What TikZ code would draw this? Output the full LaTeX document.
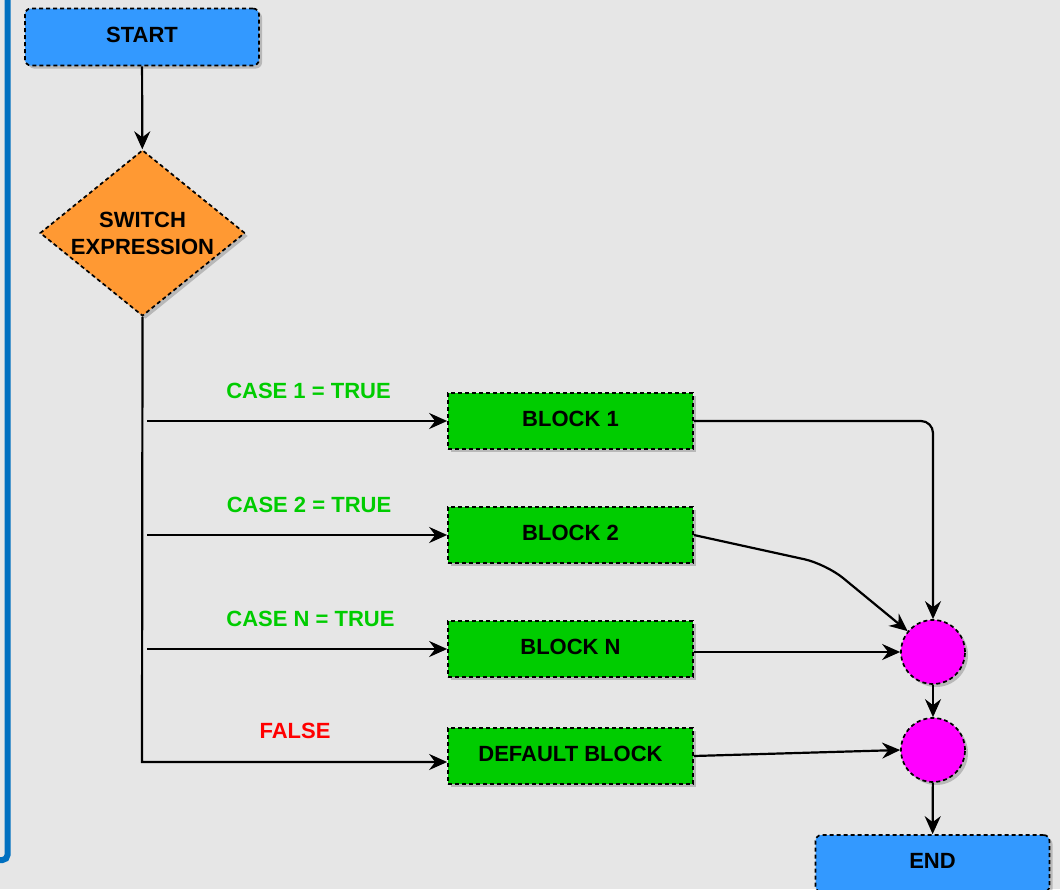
\documentclass[tikz,border=0pt]{standalone}
\usepackage{fontspec}
\setmainfont{Liberation Sans}
\usetikzlibrary{shapes.geometric,arrows.meta,shadows}

\definecolor{bgc}{HTML}{E6E6E6}
\definecolor{termblue}{HTML}{3399FF}
\definecolor{decorange}{HTML}{FF9933}
\definecolor{blockgreen}{HTML}{00CC00}
\definecolor{joinmagenta}{HTML}{FF00FF}
\definecolor{casegreen}{HTML}{00CC00}
\definecolor{falsered}{HTML}{FF0000}
\definecolor{frameblue}{HTML}{0070C0}

\tikzset{
  base/.style={draw=black, line width=1.7pt, dash pattern=on 4pt off 3pt,
    drop shadow={shadow xshift=3pt, shadow yshift=-3pt, opacity=0.2, fill=black},
    font=\fontsize{22}{27}\selectfont\bfseries, text=black, inner sep=0pt},
  termbox/.style={base, rectangle, rounded corners=6pt, fill=termblue,
    minimum width=234pt, minimum height=57pt, text depth=5pt},
  blockbox/.style={base, rectangle, fill=blockgreen,
    minimum width=245pt, minimum height=56pt, text depth=5pt},
  decide/.style={base, diamond, fill=decorange, align=center, aspect=1.235,
    minimum width=205pt, minimum height=166pt},
  joint/.style={base, circle, fill=joinmagenta, minimum size=64pt},
  arr/.style={-{Stealth[length=18pt,width=16pt,inset=6pt]}, line width=2.2pt, draw=black},
  caselabel/.style={font=\fontsize{22}{27}\selectfont\bfseries, text=casegreen, inner sep=0pt},
}

\begin{document}
\begin{tikzpicture}[x=1pt,y=-1pt]
  % canvas
  \fill[bgc] (0,0) rectangle (1060,889);
  \useasboundingbox (0,0) rectangle (1060,889);

  % frame edge on the left
  \draw[frameblue, line width=6pt, rounded corners=5pt] (7.5,-10) -- (7.5,860) -- (-10,860);

  % nodes
  \node[termbox] (start) at (142,37) {START};
  \node[decide] (sw) at (142.5,233) {SWITCH\\EXPRESSION};
  \node[blockbox] (b1) at (570.5,421) {BLOCK 1};
  \node[blockbox] (b2) at (570.5,535) {BLOCK 2};
  \node[blockbox] (bn) at (570.5,649) {BLOCK N};
  \node[blockbox] (bd) at (570.5,756) {DEFAULT BLOCK};
  \node[joint] (c1) at (933,652) {};
  \node[joint] (c2) at (933,750) {};
  \node[termbox] (end) at (932.5,863.5) {END};

  % branch labels
  \node[caselabel] (l1) at (308.5,390.5) {CASE 1 = TRUE};
  \node[caselabel] (l2) at (309,505) {CASE 2 = TRUE};
  \node[caselabel] (ln) at (310.5,619) {CASE N = TRUE};
  \node[caselabel, text=falsered] (lf) at (295,731) {FALSE};

  % helper points
  \coordinate (trunk) at (147,0);
  \coordinate (tb) at (142,762);
  \coordinate (bend) at (826,564);

  % connectors
  \draw[arr] (start) -- (sw);
  \draw[arr] (sw.south) -- (tb) -- (tb -| bd.west);
  \draw[arr] (b1.west -| trunk) -- (b1.west);
  \draw[arr] (b2.west -| trunk) -- (b2.west);
  \draw[arr] (bn.west -| trunk) -- (bn.west);

  \draw[arr, rounded corners=12pt] (b1.east) -- (b1.east -| c1.north) -- (c1.north);
  \draw[arr, rounded corners=22pt] (b2.east) -- (bend) -- (c1);
  \draw[arr] (bn.east |- c1) -- (c1.west);
  \draw[arr] (bd.east) -- (c2.west);
  \draw[arr] (c1) -- (c2);
  \draw[arr] (c2) -- (end);
\end{tikzpicture}
\end{document}
